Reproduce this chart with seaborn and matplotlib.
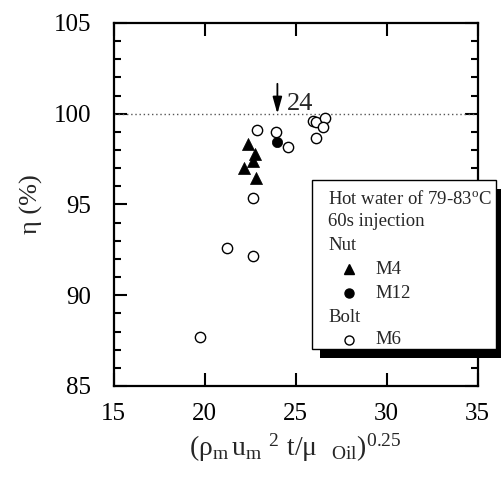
import matplotlib
matplotlib.use("Agg")
import matplotlib.pyplot as plt
import seaborn as sns
import pandas as pd
from matplotlib.patches import Rectangle
from matplotlib.ticker import MultipleLocator

# ---- data ----
m4_x = [22.40, 22.79, 22.64, 22.18, 22.84]
m4_y = [98.33, 97.78, 97.40, 97.00, 96.48]
m12_x = [23.96]
m12_y = [98.46]
m6_x = [22.90, 23.91, 24.60, 25.97, 26.12, 26.63, 26.49, 26.12, 22.66, 21.25, 22.68, 19.75]
m6_y = [99.10, 99.01, 98.15, 99.62, 99.55, 99.78, 99.29, 98.65, 95.34, 92.59, 92.18, 87.70]
x_ticks = [15, 20, 25, 30, 35]
y_ticks = [85, 90, 95, 100, 105]
legend_lines = ["Hot water of 79-83$^{\\rm o}$C", "60s injection", "Nut", "M4", "M12", "Bolt", "M6"]
ref_value = 24

sns.set_style("ticks")
plt.rcParams["font.family"] = ["Liberation Serif", "DejaVu Serif"]
plt.rcParams["mathtext.fontset"] = "custom"
plt.rcParams["mathtext.rm"] = "Liberation Serif"
plt.rcParams["mathtext.it"] = "Liberation Serif"
plt.rcParams["mathtext.default"] = "regular"

W, H = 501, 488
fig = plt.figure(figsize=(W / 100, H / 100), dpi=100)
ax = fig.add_axes([113.5 / W, 1 - 386 / H, (477.7 - 113.5) / W, (386 - 23) / H])

df4 = pd.DataFrame({"x": m4_x, "y": m4_y})
df12 = pd.DataFrame({"x": m12_x, "y": m12_y})
df6 = pd.DataFrame({"x": m6_x, "y": m6_y})

ax.axhline(100, color="#555555", lw=1.0, ls=(0, (1, 2)), zorder=1)

sns.scatterplot(data=df6, x="x", y="y", ax=ax, marker="o", s=55,
                facecolor="white", edgecolor="black", linewidth=1.0, zorder=3)
sns.scatterplot(data=df4, x="x", y="y", ax=ax, marker="^", s=75,
                color="black", edgecolor="black", linewidth=0.5, zorder=3)
sns.scatterplot(data=df12, x="x", y="y", ax=ax, marker="o", s=55,
                color="black", edgecolor="black", linewidth=0.5, zorder=3)

# arrow at 24
ax.annotate("", xy=(ref_value, 100), xytext=(ref_value, 101.65),
            arrowprops=dict(arrowstyle="-|>,head_length=1.0,head_width=0.28",
                            color="black", lw=1.3, shrinkA=0, shrinkB=0), zorder=4)
ax.text(ref_value + 0.5, 100.54, str(ref_value), fontsize=19, va="center", ha="left")

ax.set_xlim(15, 35)
ax.set_ylim(85, 105)
ax.set_xticks(x_ticks)
ax.set_yticks(y_ticks)
ax.yaxis.set_minor_locator(MultipleLocator(1))
ax.tick_params(which="both", direction="in", top=True, right=True, width=1.5, colors="black")
ax.tick_params(which="major", length=9.5, labelsize=18)
ax.tick_params(axis="x", which="major", pad=12)
ax.tick_params(axis="y", which="major", pad=16)
ax.tick_params(which="minor", length=5)
for sp in ax.spines.values():
    sp.set_linewidth(1.6)
    sp.set_color("black")

ax.set_xlabel(r"$(\rho_{m}\,u_{m}\ {}^{2}\ t/\mu\ \ _{Oil})^{0.25}$", fontsize=20, labelpad=5)
ax.set_ylabel("η (%)", fontsize=19, labelpad=8)

# ---- legend box drawn manually (pixel coords) ----
def fx(px):
    return px / W

def fy(py):
    return 1 - py / H

bx0, by0, bx1, by1 = 312, 180, 495.5, 349
fig.patches.append(Rectangle((fx(bx0 + 8), fy(by1 + 9)), fx(bx1 - bx0), fy(by0) - fy(by1),
                             transform=fig.transFigure, facecolor="black", edgecolor="none", zorder=5))
fig.patches.append(Rectangle((fx(bx0), fy(by1)), fx(bx1 - bx0), fy(by0) - fy(by1),
                             transform=fig.transFigure, facecolor="white", edgecolor="black",
                             lw=1.0, zorder=6))
row_y = [199, 222, 246, 269, 293, 317, 340]
markers = {3: ("^", "black"), 4: ("o", "black"), 6: ("o", "white")}
for i, (txt, ry) in enumerate(zip(legend_lines, row_y)):
    if i in markers:
        mk, fc = markers[i]
        fig.lines.append(plt.Line2D([fx(349)], [fy(ry)], transform=fig.transFigure,
                                    marker=mk, markersize=6.5 if mk == "o" else 7.5,
                                    markerfacecolor=fc, markeredgecolor="black",
                                    markeredgewidth=1.0, ls="none", zorder=7))
        fig.text(fx(375), fy(ry), txt, fontsize=13.5, va="center", ha="left", zorder=7)
    else:
        fig.text(fx(328), fy(ry), txt, fontsize=13.5, va="center", ha="left", zorder=7)

fig.savefig("out.png", dpi=100)
